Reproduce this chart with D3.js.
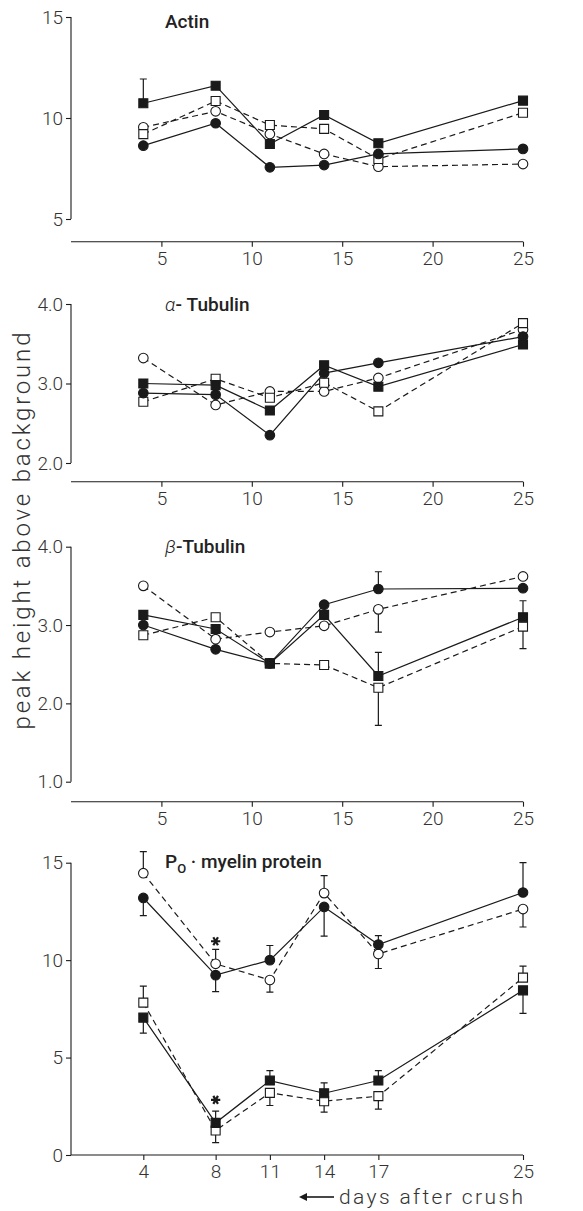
<!DOCTYPE html>
<html><head><meta charset="utf-8">
<script src="https://cdn.jsdelivr.net/npm/d3@7"></script>
<style>body{margin:0;background:#fff}svg{display:block}</style>
</head><body><svg id="c" width="583" height="1211"></svg>
<script>
// ---------- data ----------
const days = [4, 8, 11, 14, 17, 25];
const xTicksTop = [5, 10, 15, 20, 25];
const xTicksBottom = [4, 8, 11, 14, 17, 25];

// Actin
const actinFilledSquare = [10.73, 11.6, 8.71, 10.15, 8.75, 10.86];
const actinOpenSquare   = [9.2, 10.84, 9.65, 9.46, 7.97, 10.26];
const actinFilledCircle = [8.63, 9.74, 7.56, 7.67, 8.22, 8.47];
const actinOpenCircle   = [9.54, 10.33, 9.21, 8.22, 7.59, 7.72];
const actinErrFilledSquare = [11.93, null, null, null, null, null];
const actinYTicks = [5, 10, 15];

// alpha-Tubulin
const aTubFilledSquare = [3.0, 2.98, 2.66, 3.23, 2.96, 3.49];
const aTubOpenSquare   = [2.77, 3.06, 2.82, 3.01, 2.65, 3.76];
const aTubFilledCircle = [2.88, 2.86, 2.35, 3.13, 3.26, 3.59];
const aTubOpenCircle   = [3.32, 2.73, 2.9, 2.9, 3.07, 3.68];
const aTubYTicks = [2.0, 3.0, 4.0];

// beta-Tubulin
const bTubFilledSquare = [3.13, 2.95, 2.51, 3.13, 2.35, 3.1];
const bTubOpenSquare   = [2.87, 3.1, 2.51, 2.49, 2.2, 2.98];
const bTubFilledCircle = [3.0, 2.69, 2.51, 3.26, 3.46, 3.47];
const bTubOpenCircle   = [3.5, 2.82, 2.91, 2.99, 3.2, 3.62];
const bTubErrFilledSquare = [null, null, null, null, 2.65, 3.31];
const bTubErrOpenSquare   = [null, null, null, null, 1.72, 2.70];
const bTubErrFilledCircle = [null, null, null, null, 3.68, null];
const bTubErrOpenCircle   = [null, null, null, null, 2.91, null];
const bTubYTicks = [1.0, 2.0, 3.0, 4.0];

// P0-myelin protein
const p0FilledCircle = [13.19, 9.23, 10.0, 12.73, 10.8, 13.47];
const p0OpenCircle   = [14.46, 9.81, 8.98, 13.44, 10.32, 12.62];
const p0FilledSquare = [7.05, 1.65, 3.82, 3.17, 3.82, 8.45];
const p0OpenSquare   = [7.82, 1.26, 3.19, 2.76, 3.02, 9.1];
const p0ErrFilledCircle = [12.28, 8.38, 10.75, 11.23, 11.26, 15.0];
const p0ErrOpenCircle   = [15.57, 10.55, 8.36, 14.34, 9.57, 11.7];
const p0ErrFilledSquare = [6.25, 2.25, 4.33, 3.7, 4.33, 7.27];
const p0ErrOpenSquare   = [8.67, 0.63, 2.54, 2.2, 2.35, 9.69];
const p0StarDays = [8, 8];
const p0StarValues = [10.97, 2.83];
const p0YTicks = [0, 5, 10, 15];

const yLabel = "peak height above background";
const xLabel = "days after crush";

// ---------- drawing ----------
const svg = d3.select("#c");
const X0 = 71, X25 = 523;
const x = d3.scaleLinear().domain([0, 25]).range([X0, X25]);
const tickFont = "Roboto, 'Liberation Sans', sans-serif";
const ink = "#1a1a1a";

const styles = {
  filledSquare: {shape: "square", fill: ink, dash: null},
  openSquare:   {shape: "square", fill: "#fff", dash: "6,4"},
  filledCircle: {shape: "circle", fill: ink, dash: null},
  openCircle:   {shape: "circle", fill: "#fff", dash: "6,4"}
};

const panels = [
  {title: [{t: "Actin", w: 500}], domain: [5, 15], range: [219, 17], axisY: 241.7,
   yTicks: actinYTicks, fmt: d3.format("d"), xTicks: xTicksTop, titleY: 28,
   series: [["openCircle", actinOpenCircle], ["openSquare", actinOpenSquare],
            ["filledCircle", actinFilledCircle], ["filledSquare", actinFilledSquare]],
   errors: [["filledSquare", actinFilledSquare, actinErrFilledSquare]]},
  {title: [{t: "α", w: 300, i: true}, {t: "- Tubulin", w: 500}], domain: [2, 4], range: [463, 304], axisY: 481.7,
   yTicks: aTubYTicks, fmt: d3.format(".1f"), xTicks: xTicksTop, titleY: 311,
   series: [["openCircle", aTubOpenCircle], ["openSquare", aTubOpenSquare],
            ["filledCircle", aTubFilledCircle], ["filledSquare", aTubFilledSquare]],
   errors: []},
  {title: [{t: "β", w: 300, i: true}, {t: "-Tubulin", w: 500}], domain: [1, 4], range: [781.7, 546.7], axisY: 801.7,
   yTicks: bTubYTicks, fmt: d3.format(".1f"), xTicks: xTicksTop, titleY: 553,
   series: [["openCircle", bTubOpenCircle], ["openSquare", bTubOpenSquare],
            ["filledCircle", bTubFilledCircle], ["filledSquare", bTubFilledSquare]],
   errors: [["filledSquare", bTubFilledSquare, bTubErrFilledSquare], ["openSquare", bTubOpenSquare, bTubErrOpenSquare],
            ["filledCircle", bTubFilledCircle, bTubErrFilledCircle], ["openCircle", bTubOpenCircle, bTubErrOpenCircle]]},
  {title: "P0", domain: [0, 15], range: [1155, 862.7], axisY: 1155,
   yTicks: p0YTicks, fmt: d3.format("d"), xTicks: xTicksBottom, titleY: 868,
   series: [["openSquare", p0OpenSquare], ["filledSquare", p0FilledSquare],
            ["openCircle", p0OpenCircle], ["filledCircle", p0FilledCircle]],
   errors: [["filledCircle", p0FilledCircle, p0ErrFilledCircle], ["openCircle", p0OpenCircle, p0ErrOpenCircle],
            ["filledSquare", p0FilledSquare, p0ErrFilledSquare], ["openSquare", p0OpenSquare, p0ErrOpenSquare]],
   stars: true}
];

panels.forEach(p => {
  const y = d3.scaleLinear().domain(p.domain).range(p.range);
  const g = svg.append("g");

  // y axis
  const ya = g.append("g").attr("transform", `translate(${X0},0)`)
    .call(d3.axisLeft(y).tickValues(p.yTicks).tickFormat(p.fmt).tickSize(5).tickPadding(3));
  ya.select(".domain").attr("d", `M-0,${p.range[0]}V${p.range[1]}`).attr("stroke", ink).attr("stroke-width", 1.1);
  ya.selectAll(".tick line").attr("stroke", ink).attr("stroke-width", 1.1);
  ya.selectAll(".tick text").attr("font-family", tickFont).attr("font-weight", 300)
    .attr("font-size", 19).attr("fill", "#333");

  // x axis
  const xa = g.append("g").attr("transform", `translate(0,${p.axisY})`)
    .call(d3.axisBottom(x).tickValues(p.xTicks).tickSize(5).tickPadding(5));
  xa.select(".domain").attr("d", `M${X0},0H${X25}`).attr("stroke", ink).attr("stroke-width", 1.1);
  xa.selectAll(".tick line").attr("stroke", ink).attr("stroke-width", 1.1);
  xa.selectAll(".tick text").attr("font-family", tickFont).attr("font-weight", 300)
    .attr("font-size", 19).attr("fill", "#333");

  // title
  const tt = g.append("text").attr("x", x(5.2)).attr("y", p.titleY)
    .attr("font-family", tickFont).attr("font-size", 19).attr("fill", "#222");
  if (p.title === "P0") {
    tt.append("tspan").attr("font-weight", 500).text("P");
    tt.append("tspan").attr("font-weight", 500).attr("font-size", 13).attr("dy", 5).text("O");
    tt.append("tspan").attr("font-weight", 500).attr("dy", -5).text(" · myelin protein");
  } else {
    p.title.forEach(s => tt.append("tspan").attr("font-weight", s.w)
      .attr("font-style", s.i ? "italic" : "normal").text(s.t));
  }

  // lines
  const line = d3.line().x(d => x(d[0])).y(d => y(d[1]));
  p.series.forEach(([k, vals]) => {
    g.append("path").datum(days.map((d, i) => [d, vals[i]]))
      .attr("d", line).attr("fill", "none").attr("stroke", ink).attr("stroke-width", 1.2)
      .attr("stroke-dasharray", styles[k].dash);
  });

  // error bars
  p.errors.forEach(([k, vals, ends]) => {
    const eb = days.map((d, i) => ({d, v: vals[i], e: ends[i]})).filter(o => o.e != null);
    g.selectAll(null).data(eb).enter().append("path")
      .attr("d", o => `M${x(o.d)},${y(o.v)}V${y(o.e)}M${x(o.d) - 3.5},${y(o.e)}H${x(o.d) + 3.5}`)
      .attr("stroke", ink).attr("stroke-width", 1.2).attr("fill", "none");
  });

  // markers
  p.series.forEach(([k, vals]) => {
    const st = styles[k];
    const pts = days.map((d, i) => [d, vals[i]]);
    if (st.shape === "square") {
      g.selectAll(null).data(pts).enter().append("path")
        .attr("d", d3.symbol(d3.symbolSquare, 81)())
        .attr("transform", d => `translate(${x(d[0])},${y(d[1])})`)
        .attr("fill", st.fill).attr("stroke", ink).attr("stroke-width", 1.1);
    } else {
      g.selectAll(null).data(pts).enter().append("circle")
        .attr("cx", d => x(d[0])).attr("cy", d => y(d[1])).attr("r", 4.8)
        .attr("fill", st.fill).attr("stroke", ink).attr("stroke-width", 1.1);
    }
  });

  if (p.stars) {
    const starPts = p0StarDays.map((d, i) => [d, p0StarValues[i]]);
    g.selectAll(null).data(starPts).enter().append("path")
      .attr("d", d3.symbol(d3.symbolAsterisk, 60)())
      .attr("transform", d => `translate(${x(d[0])},${y(d[1])}) rotate(90)`)
      .attr("fill", "none").attr("stroke", ink).attr("stroke-width", 2.2);
  }
});

// y label
svg.append("text").attr("transform", "translate(30,531) rotate(-90)")
  .attr("text-anchor", "middle").attr("font-family", tickFont).attr("font-weight", 300)
  .attr("font-size", 24).attr("fill", "#333")
  .attr("textLength", 397).attr("lengthAdjust", "spacing").text(yLabel);

// x label with arrow
svg.append("path").attr("d", "M334,1197H304").attr("stroke", ink).attr("stroke-width", 1.6);
svg.append("path").attr("d", "M299,1197L307,1193L307,1201Z").attr("fill", ink);
svg.append("text").attr("x", 339).attr("y", 1204)
  .attr("font-family", tickFont).attr("font-weight", 300).attr("font-size", 21).attr("fill", "#333")
  .attr("textLength", 184).attr("lengthAdjust", "spacing").text(xLabel);
</script></body></html>
